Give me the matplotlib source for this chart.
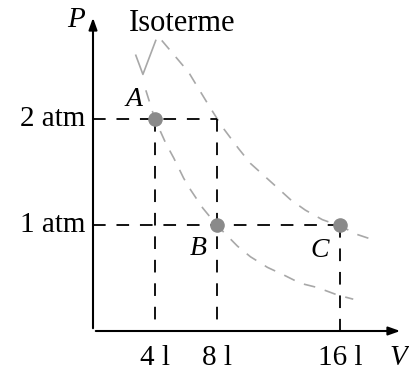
import numpy as np
import matplotlib
matplotlib.use("Agg")
import matplotlib.pyplot as plt

plt.rcParams['font.family'] = ['Liberation Serif', 'DejaVu Serif']

# states A, B, C (volume in l, pressure in atm)
state_names = ['A', 'B', 'C']
state_V = [4, 8, 16]
state_P = [2, 1, 1]

# isotherms as drawn
iso_low_V = [3.42, 4.0, 4.71, 5.23, 5.87, 6.32, 7.10, 8.0, 9.35, 10.19,
             11.29, 12.32, 13.42, 14.52, 15.81, 16.84]
iso_low_P = [2.27, 2.0, 1.77, 1.63, 1.44, 1.33, 1.16, 1.0, 0.80, 0.70,
             0.60, 0.53, 0.45, 0.41, 0.34, 0.30]
iso_high_V = [4.45, 6.19, 6.77, 7.48, 8.39, 9.42, 10.19, 11.03, 11.94,
              12.77, 13.74, 14.84, 16.0, 17.10, 18.13]
iso_high_P = [2.74, 2.44, 2.30, 2.13, 1.92, 1.72, 1.58, 1.47, 1.35,
              1.24, 1.14, 1.05, 0.99, 0.91, 0.86]

# leader from label to the curves
leader_V = [2.77, 3.23, 4.06]
leader_P = [2.60, 2.42, 2.74]

xticks = [4, 8, 16]
xtick_labels = ['4 l', '8 l', '16 l']
yticks = [1, 2]
ytick_labels = ['1 atm', '2 atm']

W, H = 409, 376
fig = plt.figure(figsize=(W / 100, H / 100), dpi=100)
ax = fig.add_axes([93 / W, (H - 331) / H, (403 - 93) / W, (331 - 15) / H])
xmax, ymax = 20.06, 2.98
ax.set_xlim(0, xmax)
ax.set_ylim(0, ymax)
ax.axis('off')

gray = '#a8a8a8'
for vv, pp in [(iso_low_V, iso_low_P), (iso_high_V, iso_high_P)]:
    ax.plot(vv, pp, color=gray, lw=1.2, dashes=(7, 6), clip_on=False)
ax.plot(leader_V, leader_P, color=gray, lw=1.2, clip_on=False)

# dashed guide lines
guide = dict(color='black', lw=1.3, dashes=(7, 6))
ax.plot([0, 8], [2, 2], **guide)
ax.plot([8, 8], [2, 0], **guide)
ax.plot([4, 4], [2, 0], **guide)
ax.plot([0, 16], [1, 1], **guide)
ax.plot([16, 16], [1, 0], **guide)

# states
ax.scatter(state_V, state_P, s=90, color='#8a8a8a', zorder=5, clip_on=False)
offsets = {'A': (-1.35, 0.18), 'B': (-1.2, -0.22), 'C': (-1.3, -0.24)}
for n, v, p in zip(state_names, state_V, state_P):
    dx, dy = offsets[n]
    ax.text(v + dx, p + dy, n, fontsize=20, style='italic',
            ha='center', va='center')

# axes with arrows
arrow = dict(arrowstyle='-|>,head_length=0.7,head_width=0.25', color='black', lw=1.5)
ax.annotate('', xy=(xmax, 0), xytext=(0, 0), arrowprops=arrow, annotation_clip=False)
ax.annotate('', xy=(0, ymax), xytext=(0, 0), arrowprops=arrow, annotation_clip=False)

for v, lab in zip(xticks, xtick_labels):
    ax.text(v, -0.25, lab, fontsize=21, ha='center', va='center')
for p, lab in zip(yticks, ytick_labels):
    ax.text(-0.5, p, lab, fontsize=21, ha='right', va='center')

ax.text(19.75, -0.25, 'V', fontsize=21, style='italic', ha='center', va='center')
ax.text(-1.1, 2.93, 'P', fontsize=21, style='italic', ha='center', va='center')
ax.text(5.75, 2.9, 'Isoterme', fontsize=22, ha='center', va='center')

fig.savefig('out.png', dpi=100)
